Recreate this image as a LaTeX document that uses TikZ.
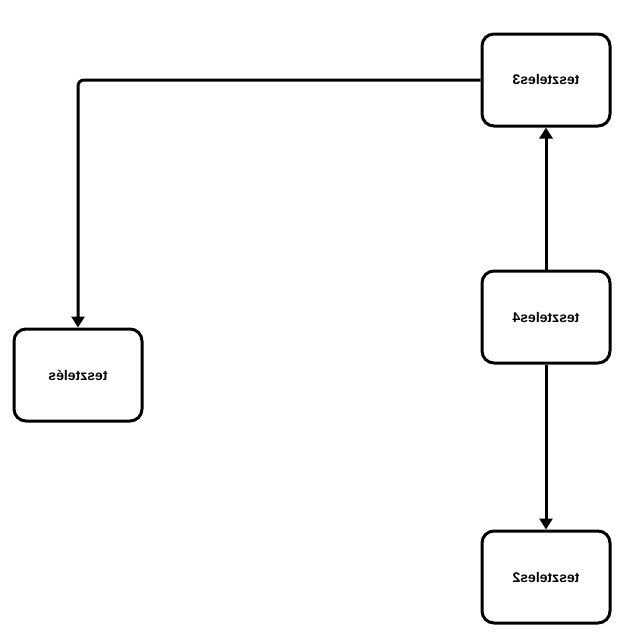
\documentclass[tikz,border=0pt]{standalone}
\usepackage{fontspec}
\setmainfont{Liberation Sans}
\usetikzlibrary{arrows.meta}
\begin{document}
\begin{tikzpicture}[x=1pt,y=-1pt,
  box/.style={draw=black,line width=3pt,rounded corners=12pt,fill=white,minimum width=128pt,minimum height=92pt,inner sep=0pt,font=\fontsize{14}{16}\selectfont\bfseries},
  conn/.style={line width=3pt,-{Triangle[width=13pt,length=11pt]},rounded corners=6pt}]
\useasboundingbox (0,0) rectangle (640,640);
\node[box] (t3) at (546,80) {\scalebox{-1}[1]{teszteles3}};
\node[box] (t4) at (546,317) {\scalebox{-1}[1]{teszteles4}};
\node[box] (t2) at (546,577) {\scalebox{-1}[1]{teszteles2}};
\node[box] (t1) at (78,375) {\scalebox{-1}[1]{tesztelés}};
\draw[conn] (t3.west) -| (t1.north);
\draw[conn] (t4.north) -- (t3.south);
\draw[conn] (t4.south) -- (t2.north);
\end{tikzpicture}
\end{document}
